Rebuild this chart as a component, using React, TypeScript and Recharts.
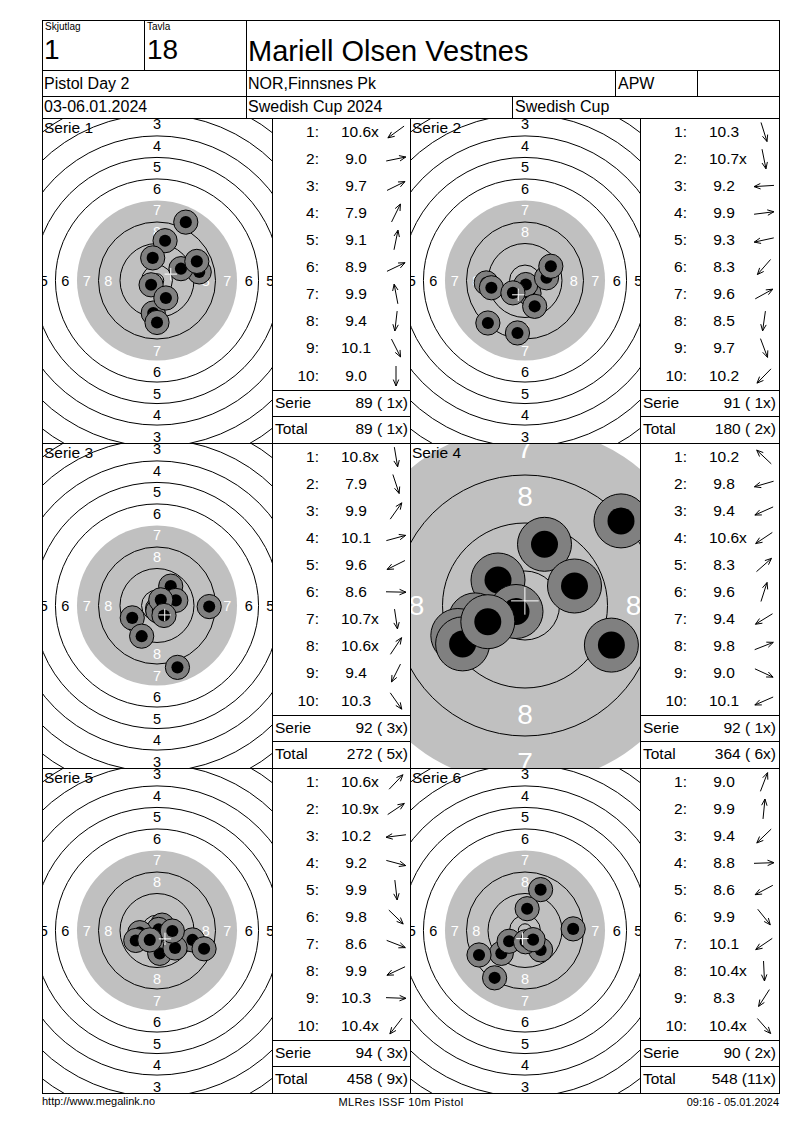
import React from "react";
import { Scatter, ScatterChart, XAxis, YAxis } from "recharts";

const FONT = '"Liberation Sans", Arial, Helvetica, sans-serif';

// header / footer texts
const SQUAD = "1";
const LANE = "18";
const SHOOTER = "Mariell Olsen Vestnes";
const EVENT = "Pistol Day 2";
const CLUB = "NOR,Finnsnes Pk";
const CLASS_NAME = "APW";
const DATES = "03-06.01.2024";
const COMPETITION = "Swedish Cup 2024";
const CUP = "Swedish Cup";
const FOOTER_LEFT = "http://www.megalink.no";
const FOOTER_MID = "MLRes ISSF 10m Pistol";
const FOOTER_RIGHT = "09:16 - 05.01.2024";

const serieNames = ["Serie 1", "Serie 2", "Serie 3", "Serie 4", "Serie 5", "Serie 6"];

// shot values as printed, and hit positions in mm from the centre (x right, y up)
const s1Values = ["10.6x", "9.0", "9.7", "7.9", "9.1", "8.9", "9.9", "9.4", "10.1", "9.0"];
const s1X = [-2.2, 15.7, 8.9, 10.7, 3.0, 14.8, -1.6, -1.4, 3.3, 0.0];
const s1Y = [-1.6, 3.2, 4.4, 21.7, 14.8, 7.1, 8.4, -12.1, -6.5, -15.6];

const s2Values = ["10.3", "10.7x", "9.2", "9.9", "9.3", "8.3", "9.6", "8.5", "9.7", "10.2"];
const s2X = [1.5, 0.3, -14.4, 8.0, -12.5, -13.8, 9.6, -2.8, 3.6, -4.5];
const s2Y = [-4.8, -1.5, -0.9, 1.0, -2.7, -15.8, 5.3, -19.5, -9.6, -4.6];

const s3Values = ["10.8x", "7.9", "9.9", "10.1", "9.6", "8.6", "10.7x", "10.6x", "9.4", "10.3"];
const s3X = [0.2, 7.6, 5.1, 7.0, -9.2, 19.4, 0.3, 1.4, -5.7, 2.6];
const s3Y = [-1.2, -23.0, 7.2, 1.9, -4.6, -0.4, -2.0, 2.1, -11.4, -3.7];

const s4Values = ["10.2", "9.8", "9.4", "10.6x", "8.3", "9.6", "9.4", "9.8", "9.0", "10.1"];
const s4X = [-4.5, -8.3, -11.2, -1.5, 16.0, 3.25, -10.4, 8.25, 14.4, -6.2];
const s4Y = [4.25, -2.4, -5.0, -1.0, 14.1, 10.2, -6.4, 3.25, -6.6, -2.7];

const s5Values = ["10.6x", "10.9x", "10.2", "9.2", "9.9", "9.8", "8.6", "9.9", "10.3", "10.4x"];
const s5X = [1.9, 0.6, -6.4, 13.2, 1.0, 6.7, 17.5, -7.9, 5.7, -2.7];
const s5Y = [2.0, 0.4, -0.8, -3.5, -8.5, -6.5, -6.8, -3.7, -0.2, -3.5];

const s6Values = ["9.0", "9.9", "9.4", "8.8", "8.6", "9.9", "10.1", "10.4x", "8.3", "10.4x"];
const s6X = [5.8, 0.8, -8.8, 17.9, -17.1, 5.8, -5.9, 0.2, -11.3, 3.0];
const s6Y = [15.2, 8.1, -8.5, 0.6, -9.1, -7.2, -4.0, -4.2, -17.6, -3.4];

const zoomedSeries = [false, false, false, true, false, false];

// 10m air pistol target, radii in mm
const ringLines = [77.75, 69.75, 61.75, 53.75, 45.75, 37.75, 21.75, 13.75, 5.75, 2.5];
const BLACK_ZONE = 29.75;
const labelRings = [3, 4, 5, 6, 7, 8];
const PELLET = 2.25;
const HALO = 4.5;
const CROSS = 2.3;

const TW = 230;
const TH = 325;

const mean = (a: number[]) => a.reduce((s, v) => s + v, 0) / a.length;

function Target({ xs, ys, zoomed }: { xs: number[]; ys: number[]; zoomed: boolean }) {
  const ppm = zoomed ? 6 : 2.69;
  const fs = zoomed ? 28 : 14.5;
  const hw = TW / 2 / ppm;
  const hh = TH / 2 / ppm;

  const zone = [{ x: 0, y: 0, r: BLACK_ZONE }];
  const rings = ringLines.map((r) => ({ x: 0, y: 0, r }));
  const labels = labelRings.flatMap((n) => {
    const d = 2.1 + (10 - n) * 8;
    return [
      { x: 0, y: d, n },
      { x: 0, y: -d, n },
      { x: -d, y: 0, n },
      { x: d, y: 0, n },
    ];
  });
  const shots = xs.map((x, i) => ({ x, y: ys[i] }));
  const centre = [{ x: mean(xs), y: mean(ys) }];

  return (
    <ScatterChart width={TW} height={TH} margin={{ top: 0, right: 0, bottom: 0, left: 0 }}>
      <XAxis type="number" dataKey="x" domain={[-hw, hw]} hide allowDataOverflow height={0} />
      <YAxis type="number" dataKey="y" domain={[-hh, hh]} hide allowDataOverflow width={0} />
      <Scatter
        data={zone}
        isAnimationActive={false}
        shape={(p: any) => <circle cx={p.cx} cy={p.cy} r={p.payload.r * ppm} fill="#c0c0c0" />}
      />
      <Scatter
        data={rings}
        isAnimationActive={false}
        shape={(p: any) => (
          <circle cx={p.cx} cy={p.cy} r={p.payload.r * ppm} fill="none" stroke="#000" strokeWidth={1} />
        )}
      />
      <Scatter
        data={labels}
        isAnimationActive={false}
        shape={(p: any) => (
          <text
            x={p.cx}
            y={p.cy}
            textAnchor="middle"
            dominantBaseline="central"
            fontSize={fs}
            fontFamily={FONT}
            fill={p.payload.n >= 7 ? "#fff" : "#000"}
          >
            {p.payload.n}
          </text>
        )}
      />
      <Scatter
        data={shots}
        isAnimationActive={false}
        shape={(p: any) => (
          <g>
            <circle cx={p.cx} cy={p.cy} r={HALO * ppm} fill="#808080" stroke="#000" strokeWidth={1} />
            <circle cx={p.cx} cy={p.cy} r={PELLET * ppm} fill="#000" />
          </g>
        )}
      />
      <Scatter
        data={centre}
        isAnimationActive={false}
        shape={(p: any) => (
          <g stroke="#fff" strokeWidth={1}>
            <line x1={p.cx - CROSS * ppm} y1={p.cy} x2={p.cx + CROSS * ppm} y2={p.cy} />
            <line x1={p.cx} y1={p.cy - CROSS * ppm} x2={p.cx} y2={p.cy + CROSS * ppm} />
          </g>
        )}
      />
    </ScatterChart>
  );
}

function Arrow({ angle }: { angle: number }) {
  const c = 12;
  const half = 10;
  const ux = Math.cos(angle);
  const uy = -Math.sin(angle);
  const tx = c + ux * half;
  const ty = c + uy * half;
  const head = (a: number) => {
    const bx = -ux * Math.cos(a) + uy * Math.sin(a);
    const by = -uy * Math.cos(a) - ux * Math.sin(a);
    return `M${tx},${ty} L${tx + bx * 7},${ty + by * 7}`;
  };
  return (
    <svg width={24} height={24} style={{ position: "absolute", left: 112, top: -12 }}>
      <g stroke="#000" strokeWidth={1} fill="none">
        <line x1={c - ux * half} y1={c - uy * half} x2={tx} y2={ty} />
        <path d={head(0.4)} />
        <path d={head(-0.4)} />
      </g>
    </svg>
  );
}

const abs = (left: number, top: number, extra: React.CSSProperties = {}): React.CSSProperties => ({
  position: "absolute",
  left,
  top,
  ...extra,
});

function ScoreTable({
  left,
  top,
  values,
  xs,
  ys,
  serie,
  serieX,
  total,
  totalX,
}: {
  left: number;
  top: number;
  values: string[];
  xs: number[];
  ys: number[];
  serie: number;
  serieX: number;
  total: number;
  totalX: number;
}) {
  const fmt = (v: number, x: number) => `${v} (${x < 10 ? " " : ""}${x}x)`;
  const text: React.CSSProperties = { fontSize: 15.5, height: 20, lineHeight: "20px", whiteSpace: "pre" };
  return (
    <>
      {values.map((v, i) => {
        const cy = top + 13.6 + i * 27.1;
        const isX = v.endsWith("x");
        const num = isX ? v.slice(0, -1) : v;
        return (
          <div key={i} style={abs(left, cy, { width: 138, height: 0 })}>
            <div style={abs(0, -10, { ...text, width: 47, textAlign: "right" })}>{`${i + 1}:`}</div>
            <div style={abs(44, -10, { ...text, width: 80, textAlign: "center" })}>
              <span style={{ position: "relative" }}>
                {num}
                {isX && <span style={{ position: "absolute", left: "100%" }}>x</span>}
              </span>
            </div>
            <Arrow angle={Math.atan2(ys[i], xs[i])} />
          </div>
        );
      })}
      <div style={abs(left + 3, top + 285 - 10, text)}>Serie</div>
      <div style={abs(left, top + 285 - 10, { ...text, width: 136, textAlign: "right" })}>{fmt(serie, serieX)}</div>
      <div style={abs(left + 3, top + 311 - 10, text)}>Total</div>
      <div style={abs(left, top + 311 - 10, { ...text, width: 136, textAlign: "right" })}>{fmt(total, totalX)}</div>
    </>
  );
}

const HLine = ({ x1, x2, y }: { x1: number; x2: number; y: number }) => (
  <div style={abs(x1, y, { width: x2 - x1 + 1, height: 1, background: "#000" })} />
);
const VLine = ({ x, y1, y2 }: { x: number; y1: number; y2: number }) => (
  <div style={abs(x, y1, { width: 1, height: y2 - y1 + 1, background: "#000" })} />
);

export default function App() {
  const allValues = [s1Values, s2Values, s3Values, s4Values, s5Values, s6Values];
  const allX = [s1X, s2X, s3X, s4X, s5X, s6X];
  const allY = [s1Y, s2Y, s3Y, s4Y, s5Y, s6Y];

  let runTotal = 0;
  let runX = 0;
  const sums = allValues.map((vals) => {
    const serie = vals.reduce((s, v) => s + Math.floor(parseFloat(v)), 0);
    const sx = vals.filter((v) => v.endsWith("x")).length;
    runTotal += serie;
    runX += sx;
    return { serie, sx, total: runTotal, tx: runX };
  });

  const L = 42;
  const R = 779;
  const T = 20;
  const B = 1093;
  const panelTop = (row: number) => 118 + row * 325;
  const targetLeft = [42, 410];
  const tableLeft = [272, 640];
  const cell = (left: number, cy: number, size: number, content: string, extra: React.CSSProperties = {}) => (
    <div style={abs(left, cy - size * 0.6, { fontSize: size, height: size * 1.2, lineHeight: `${size * 1.2}px`, whiteSpace: "pre", ...extra })}>
      {content}
    </div>
  );

  return (
    <div style={{ position: "absolute", left: 0, top: 0, width: 800, height: 1130, fontFamily: FONT, color: "#000", background: "#fff" }}>
      {allValues.map((vals, k) => {
        const row = Math.floor(k / 2);
        const col = k % 2;
        const top = panelTop(row);
        return (
          <React.Fragment key={k}>
            <div style={abs(targetLeft[col] + 1, top, { width: TW - 1, height: TH, overflow: "hidden" })}>
              <div style={abs(-1, 0)}>
                <Target xs={allX[k]} ys={allY[k]} zoomed={zoomedSeries[k]} />
              </div>
              {cell(1, 10, 15.5, serieNames[k])}
            </div>
            <ScoreTable
              left={tableLeft[col]}
              top={top}
              values={vals}
              xs={allX[k]}
              ys={allY[k]}
              serie={sums[k].serie}
              serieX={sums[k].sx}
              total={sums[k].total}
              totalX={sums[k].tx}
            />
            <HLine x1={tableLeft[col]} x2={tableLeft[col] + (col ? 139 : 138)} y={top + 272} />
            <HLine x1={tableLeft[col]} x2={tableLeft[col] + (col ? 139 : 138)} y={top + 298} />
          </React.Fragment>
        );
      })}

      {/* header */}
      {cell(45, 27, 10, "Skjutlag")}
      {cell(147, 27, 10, "Tavla")}
      {cell(44, 50, 28, SQUAD)}
      {cell(147, 50, 28, LANE)}
      {cell(248, 51, 29, SHOOTER)}
      {cell(44, 84, 16, EVENT)}
      {cell(248, 84, 16, CLUB)}
      {cell(618, 84, 16, CLASS_NAME)}
      {cell(44, 107, 16, DATES)}
      {cell(248, 107, 16, COMPETITION)}
      {cell(515, 107, 16, CUP)}

      {/* grid */}
      {[T, 70, 96, 118, 443, 768, B].map((y) => (
        <HLine key={y} x1={L} x2={R} y={y} />
      ))}
      <VLine x={L} y1={T} y2={B} />
      <VLine x={R} y1={T} y2={B} />
      <VLine x={144} y1={T} y2={70} />
      <VLine x={246} y1={T} y2={118} />
      <VLine x={615} y1={70} y2={96} />
      <VLine x={697} y1={70} y2={96} />
      <VLine x={512} y1={96} y2={118} />
      <VLine x={272} y1={118} y2={B} />
      <VLine x={410} y1={118} y2={B} />
      <VLine x={640} y1={118} y2={B} />

      {/* footer */}
      {cell(42, 1102, 11, FOOTER_LEFT)}
      <div style={abs(300, 1102 - 7, { width: 202, textAlign: "center", fontSize: 11, lineHeight: "14px", letterSpacing: 0.4 })}>
        {FOOTER_MID}
      </div>
      <div style={abs(579, 1102 - 7, { width: 200, textAlign: "right", fontSize: 11, lineHeight: "14px" })}>
        {FOOTER_RIGHT}
      </div>
    </div>
  );
}
